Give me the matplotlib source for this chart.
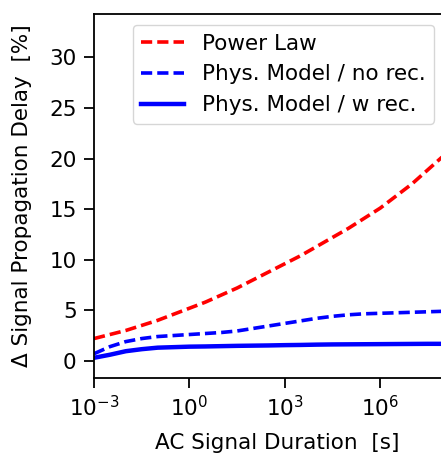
import matplotlib.pyplot as plt
import numpy as np
from matplotlib.ticker import FixedLocator, NullLocator

# log10 of AC signal duration [s]
log_t = [-3, -2.5, -2, -1.5, -1, -0.5, 0, 0.5, 1, 1.5, 2, 2.5, 3, 3.5, 4, 4.5, 5, 5.5, 6, 6.5, 7, 7.5, 8, 8.5]

power_law = [2.2, 2.6, 3.0, 3.5, 4.0, 4.6, 5.2, 5.8, 6.5, 7.2, 8.0, 8.8, 9.6, 10.4, 11.3, 12.2, 13.1, 14.1, 15.1, 16.3, 17.5, 18.9, 20.3, 21.8]
phys_no_rec = [0.7, 1.4, 1.9, 2.2, 2.4, 2.5, 2.6, 2.7, 2.8, 2.95, 3.2, 3.45, 3.7, 3.95, 4.2, 4.4, 4.55, 4.65, 4.7, 4.75, 4.8, 4.85, 4.9, 4.95]
phys_w_rec = [0.3, 0.6, 0.95, 1.15, 1.3, 1.35, 1.4, 1.42, 1.45, 1.48, 1.5, 1.52, 1.55, 1.57, 1.6, 1.62, 1.63, 1.64, 1.65, 1.66, 1.67, 1.68, 1.68, 1.69]

t = 10.0 ** np.array(log_t)

plt.rcParams['font.size'] = 15.5
fig = plt.figure(figsize = (4.41, 4.53), dpi = 100)
ax = fig.add_axes([94 / 441, 75 / 453, 366 / 441, 364 / 453])

ax.plot(t, power_law, color = "red", lw = 2.6, dashes = (3.1, 1.4), label = "Power Law")
ax.plot(t, phys_no_rec, color = "blue", lw = 2.6, dashes = (3.1, 1.4), label = "Phys. Model / no rec.")
ax.plot(t, phys_w_rec, "-", color = "blue", lw = 3.2, label = "Phys. Model / w rec.")

ax.set_xscale("log")
ax.set_xlim(1e-3, 10 ** (-3 + 366 / 31.8))
ax.set_ylim(-1.7, 34.3)
ax.xaxis.set_major_locator(FixedLocator([1e-3, 1e0, 1e3, 1e6]))
ax.xaxis.set_minor_locator(NullLocator())
ax.set_yticks([0, 5, 10, 15, 20, 25, 30])
ax.tick_params(length = 7.5, width = 1.3, pad = 5)
ax.spines["right"].set_visible(False)
for s in ["left", "bottom", "top"]:
    ax.spines[s].set_linewidth(1.3)

ax.set_xlabel("AC Signal Duration  [s]", labelpad = 9)
ax.set_ylabel("Δ Signal Propagation Delay  [%]", labelpad = 12)

ax.legend(loc = "upper right", bbox_to_anchor = (434 / 441, 1 - 25 / 453),
          bbox_transform = fig.transFigure, borderaxespad = 0,
          fontsize = 15.5, handlelength = 2.0)

fig.savefig("out.png", dpi = 100)
